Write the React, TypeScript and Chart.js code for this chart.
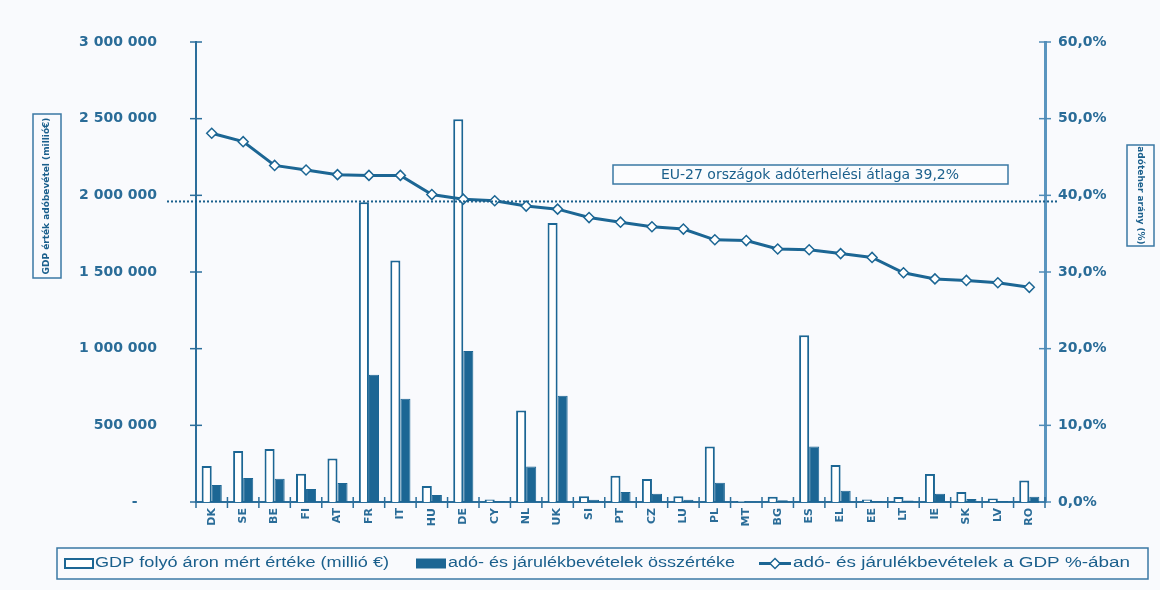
import React, { useEffect, useRef } from "react";
import { Chart, registerables } from "chart.js";

Chart.register(...registerables);

const categories = ["DK","SE","BE","FI","AT","FR","IT","HU","DE","CY","NL","UK","SI","PT","CZ","LU","PL","MT","BG","ES","EL","EE","LT","IE","SK","LV","RO"];
const gdpValues = [235000,333000,346000,185000,283000,1955000,1575000,105000,2496000,17000,596000,1820000,37000,172000,150000,38000,362000,6000,35000,1088000,242000,16000,32000,183000,65000,23000,140000];
const taxValues = [111000,157000,152000,85000,124000,830000,673000,45000,985000,7000,231000,693000,14000,65000,54000,15000,126000,2000,12000,362000,74000,5000,10000,54000,20000,7000,35000];
const taxRatio = [48.1,47.0,43.9,43.3,42.7,42.6,42.6,40.1,39.5,39.3,38.6,38.2,37.1,36.5,35.9,35.6,34.2,34.1,33.0,32.9,32.4,31.9,29.9,29.1,28.9,28.6,28.0];
const euAverage = 39.2;
const leftTicks = [0, 500000, 1000000, 1500000, 2000000, 2500000, 3000000];
const rightTicks = [0, 10, 20, 30, 40, 50, 60];

const seriesNames = [
  "GDP folyó áron mért értéke (millió €)",
  "adó- és járulékbevételek összértéke",
  "adó- és járulékbevételek a GDP %-ában",
];
const leftTitle = "GDP érték adóbevétel (millió€)";
const rightTitle = "adóteher arány (%)";
const avgLabel = "EU-27 országok adóterhelési átlaga 39,2%";

const BLUE = "#1c6694";
const DARK = "#1a5f8c";
const AXIS = "#2b6e9b";
const TEXT = "#2a6c98";
const BG = "#f9fafd";

function fmtThousands(v: number) {
  if (v === 0) return "-    ";
  return String(v).replace(/\B(?=(\d{3})+(?!\d))/g, " ");
}

function stretchText(ctx: any, text: string, x: number, y: number, width: number) {
  const w = ctx.measureText(text).width;
  ctx.save();
  ctx.translate(x, y);
  ctx.scale(width / w, 1);
  ctx.fillText(text, 0, 0);
  ctx.restore();
}

const decorPlugin = {
  id: "decor",
  beforeDraw(chart: any) {
    const ctx = chart.ctx;
    ctx.save();
    ctx.fillStyle = BG;
    ctx.fillRect(0, 0, chart.width, chart.height);
    ctx.restore();
  },
  afterDraw(chart: any) {
    const ctx = chart.ctx;
    const area = chart.chartArea;
    const y = chart.scales.y;
    const y1 = chart.scales.y1;
    const x = chart.scales.x;
    ctx.save();
    // crossing ticks
    ctx.strokeStyle = AXIS;
    ctx.lineWidth = 1.5;
    leftTicks.forEach((v) => {
      const py = y.getPixelForValue(v);
      ctx.beginPath();
      ctx.moveTo(area.left - 6, py);
      ctx.lineTo(area.left + 6, py);
      ctx.stroke();
    });
    ctx.strokeStyle = "#4f8bb6";
    rightTicks.forEach((v) => {
      const py = y1.getPixelForValue(v);
      ctx.beginPath();
      ctx.moveTo(area.right - 6, py);
      ctx.lineTo(area.right + 6, py);
      ctx.stroke();
    });
    ctx.strokeStyle = AXIS;
    for (let i = 0; i <= categories.length; i++) {
      const px = x.getPixelForValue(i - 0.5);
      ctx.beginPath();
      ctx.moveTo(px, area.bottom - 5);
      ctx.lineTo(px, area.bottom + 6);
      ctx.stroke();
    }
    // average dotted line
    const ay = y1.getPixelForValue(euAverage);
    ctx.strokeStyle = DARK;
    ctx.lineWidth = 2;
    ctx.setLineDash([2, 2]);
    ctx.beginPath();
    ctx.moveTo(167, ay);
    ctx.lineTo(area.right + 14, ay);
    ctx.stroke();
    ctx.setLineDash([]);

    // annotation box
    ctx.lineWidth = 1.5;
    ctx.strokeStyle = "#3a78a4";
    ctx.fillStyle = "#fbfcfe";
    ctx.fillRect(613, 165, 395, 19);
    ctx.strokeRect(613, 165, 395, 19);
    ctx.fillStyle = DARK;
    ctx.font = "14px 'DejaVu Sans'";
    ctx.textAlign = "center";
    ctx.textBaseline = "middle";
    ctx.fillText(avgLabel, 810, 175);

    // axis title boxes
    ctx.strokeStyle = "#3a78a4";
    ctx.lineWidth = 1.5;
    ctx.strokeRect(33, 114, 28, 164);
    ctx.strokeRect(1127, 145, 27, 101);
    ctx.fillStyle = DARK;
    ctx.font = "bold 9px 'DejaVu Sans'";
    ctx.save();
    ctx.translate(47, 196);
    ctx.rotate(-Math.PI / 2);
    ctx.fillText(leftTitle, 0, 0);
    ctx.restore();
    ctx.save();
    ctx.translate(1140.5, 195.5);
    ctx.rotate(Math.PI / 2);
    ctx.fillText(rightTitle, 0, 0);
    ctx.restore();

    // legend
    ctx.strokeStyle = "#3a78a4";
    ctx.lineWidth = 1.5;
    ctx.strokeRect(57, 548, 1091, 31);
    const ly = 563.5;
    ctx.lineWidth = 2;
    ctx.strokeStyle = BLUE;
    ctx.fillStyle = "#ffffff";
    ctx.fillRect(65, ly - 4.5, 28, 9);
    ctx.strokeRect(65, ly - 4.5, 28, 9);
    ctx.fillStyle = BLUE;
    ctx.fillRect(416, ly - 5, 30, 10);
    ctx.beginPath();
    ctx.lineWidth = 3;
    ctx.moveTo(759, ly);
    ctx.lineTo(791, ly);
    ctx.stroke();
    ctx.beginPath();
    ctx.moveTo(775, ly - 5);
    ctx.lineTo(780, ly);
    ctx.lineTo(775, ly + 5);
    ctx.lineTo(770, ly);
    ctx.closePath();
    ctx.fillStyle = "#ffffff";
    ctx.lineWidth = 1.5;
    ctx.fill();
    ctx.stroke();
    ctx.fillStyle = DARK;
    ctx.font = "14px 'Liberation Sans'";
    ctx.textAlign = "left";
    stretchText(ctx, seriesNames[0], 95, ly, 294);
    stretchText(ctx, seriesNames[1], 448, ly, 287);
    stretchText(ctx, seriesNames[2], 793, ly, 337);
    ctx.restore();
  },
};

export default function App() {
  const ref = useRef<HTMLCanvasElement>(null);
  useEffect(() => {
    document.body.style.margin = "0";
    document.body.style.background = BG;
    const chart = new Chart(ref.current as HTMLCanvasElement, {
      type: "bar",
      data: {
        labels: categories,
        datasets: [
          {
            type: "line",
            label: seriesNames[2],
            data: taxRatio,
            yAxisID: "y1",
            borderColor: BLUE,
            borderWidth: 3,
            pointStyle: "rectRot",
            pointRadius: 5,
            pointBackgroundColor: "#ffffff",
            pointBorderColor: BLUE,
            pointBorderWidth: 1.5,
            tension: 0,
            order: 0,
          } as any,
          {
            label: seriesNames[0],
            data: gdpValues,
            yAxisID: "y",
            backgroundColor: "#ffffff",
            borderColor: BLUE,
            borderWidth: 2,
            order: 1,
          },
          {
            label: seriesNames[1],
            data: taxValues,
            yAxisID: "y",
            backgroundColor: BLUE,
            borderColor: BLUE,
            borderWidth: 1,
            order: 1,
          },
        ],
      },
      options: {
        animation: false,
        responsive: false,
        maintainAspectRatio: false,
        layout: { padding: { top: 42, left: 0, right: 0, bottom: 0 } },
        datasets: { bar: { categoryPercentage: 0.64, barPercentage: 1.0 } } as any,
        plugins: { legend: { display: false }, tooltip: { enabled: false } },
        scales: {
          x: {
            offset: true,
            grid: { display: false, drawTicks: false },
            border: { display: true, color: AXIS, width: 2 },
            ticks: {
              color: TEXT,
              font: { family: "'DejaVu Sans'", size: 11, weight: "bold" },
              minRotation: 90,
              maxRotation: 90,
              padding: 6,
              autoSkip: false,
            },
            afterFit(scale: any) {
              scale.height = 88;
              scale.paddingLeft = 0;
              scale.paddingRight = 0;
            },
          },
          y: {
            position: "left",
            min: 0,
            max: 3000000,
            grid: { display: false, drawTicks: false },
            border: { display: true, color: AXIS, width: 2 },
            ticks: {
              stepSize: 500000,
              color: TEXT,
              font: { family: "'DejaVu Sans'", size: 14, weight: "bold" },
              padding: 39,
              callback: (v: any) => fmtThousands(Number(v)),
            },
            afterFit(scale: any) {
              scale.width = 196;
              scale.paddingTop = 8;
              scale.paddingBottom = 8;
            },
          },
          y1: {
            position: "right",
            min: 0,
            max: 60,
            grid: { display: false, drawTicks: false },
            border: { display: true, color: "#5a95bf", width: 3 },
            ticks: {
              stepSize: 10,
              color: TEXT,
              font: { family: "'DejaVu Sans'", size: 14, weight: "bold" },
              padding: 13,
              callback: (v: any) => Number(v).toFixed(1).replace(".", ",") + "%",
            },
            afterFit(scale: any) {
              scale.width = 115;
              scale.paddingTop = 8;
              scale.paddingBottom = 8;
            },
          },
        },
      },
      plugins: [decorPlugin],
    });
    return () => chart.destroy();
  }, []);
  return (
    <div style={{ width: 1160, height: 590 }}>
      <canvas ref={ref} width={1160} height={590} style={{ display: "block" }} />
    </div>
  );
}
